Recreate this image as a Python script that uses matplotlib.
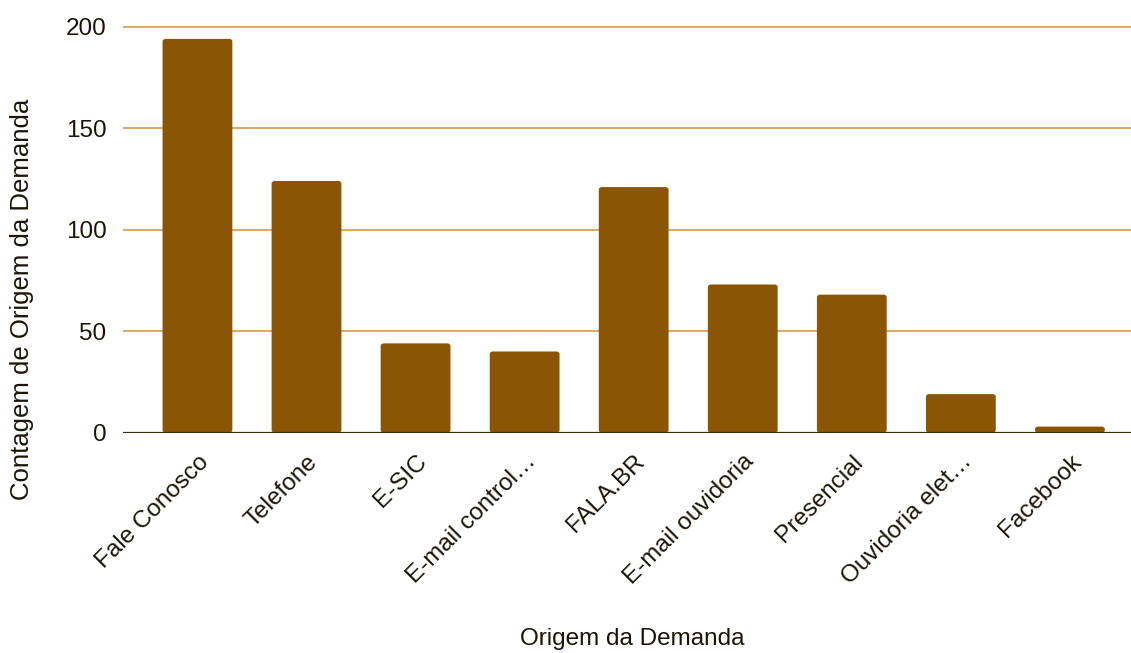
import matplotlib.pyplot as plt
from matplotlib.patches import FancyBboxPatch

categorias = ["Fale Conosco", "Telefone", "E-SIC", "E-mail control…", "FALA.BR",
              "E-mail ouvidoria", "Presencial", "Ouvidoria elet…", "Facebook"]
contagens = [194, 124, 44, 40, 121, 73, 68, 19, 3]
yticks = [0, 50, 100, 150, 200]

COR_BARRA = "#8B5506"
COR_GRADE = "#D9A35A"
COR_TEXTO = "#1c1408"

plt.rcParams["font.family"] = ["Liberation Sans", "DejaVu Sans"]


def main():
    fig = plt.figure(figsize=(11.31, 6.53), dpi=100)
    # eixo de 0 a 201 para nao cortar a linha de grade do 200
    ax = fig.add_axes([0.109, 0.3374, 0.891, 0.6248])

    x = list(range(len(categorias)))
    bars = ax.bar(x, contagens, width=0.64, color=COR_BARRA, zorder=3)

    # cantos levemente arredondados, como no original
    for b in bars:
        b.set_visible(False)
        p = FancyBboxPatch((b.get_x(), 0), b.get_width(), b.get_height(),
                           boxstyle="round,pad=0,rounding_size=0.03",
                           mutation_aspect=1 / 0.03 * 1.2,
                           facecolor=COR_BARRA, edgecolor="none", zorder=3)
        ax.add_patch(p)

    ax.set_xlim(-0.68, len(categorias) - 0.44)
    ax.set_ylim(0, 201)
    ax.set_yticks(yticks)
    ax.grid(axis="y", color=COR_GRADE, linewidth=1.3, zorder=0)
    ax.axhline(0, color="#3b2a12", linewidth=1.6, zorder=4)

    for s in ax.spines.values():
        s.set_visible(False)

    ax.tick_params(axis="both", length=0, labelsize=17.5, colors=COR_TEXTO)
    ax.tick_params(axis="y", pad=12)
    ax.tick_params(axis="x", pad=13)
    ax.set_xticks(x)
    ax.set_xticklabels(categorias, rotation=45, ha="right", va="top",
                       rotation_mode="anchor")

    ax.set_xlabel("Origem da Demanda", fontsize=17.5, color=COR_TEXTO, va="top")
    ax.set_ylabel("Contagem de Origem da Demanda", fontsize=18.5, color=COR_TEXTO)
    ax.xaxis.set_label_coords(0.505, -0.479)
    ax.yaxis.set_label_coords(-0.089, 0.327)

    fig.savefig("out.png", dpi=100)


if __name__ == "__main__":
    main()
